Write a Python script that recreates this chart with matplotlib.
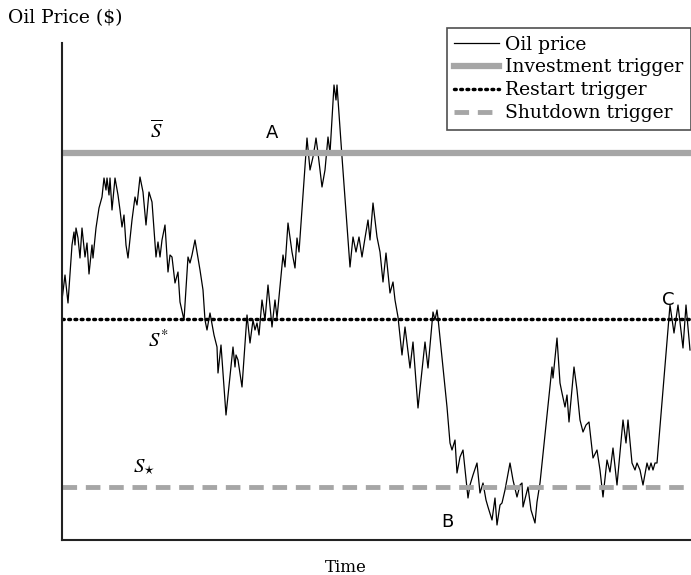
import matplotlib.pyplot as plt
from matplotlib.lines import Line2D

# time steps and oil price (arbitrary units)
time = [0, 3, 6, 10, 12, 13, 14, 16, 18, 20, 23, 25, 27, 30, 31, 34, 37, 40, 42, 44,
        45, 47, 48, 50, 53, 56, 58, 60, 62, 64, 66, 70, 73, 75, 78, 81, 84, 87, 90, 92,
        94, 96, 98, 100, 103, 106, 108, 110, 113, 116, 118, 122, 126, 128, 130, 133, 138, 141, 143, 145,
        148, 152, 155, 156, 159, 164, 171, 173, 174, 176, 180, 185, 188, 191, 193, 195, 197, 200, 203, 206,
        210, 213, 215, 221, 223, 226, 230, 233, 235, 237, 245, 248, 251, 253, 254, 256, 260, 263, 266, 268,
        272, 274, 275, 280, 288, 291, 294, 297, 300, 303, 306, 308, 311, 315, 318, 321, 324, 328, 331, 333,
        336, 340, 343, 348, 351, 356, 363, 366, 371, 373, 375, 376, 385, 388, 390, 393, 395, 398, 401, 406,
        408, 411, 415, 418, 421, 424, 426, 430, 433, 435, 438, 440, 443, 448, 451, 455, 458, 460, 461, 464,
        466, 469, 473, 475, 478, 490, 491, 495, 498, 500, 503, 505, 507, 512, 515, 518, 521, 524, 527, 529,
        531, 535, 538, 541, 545, 548, 551, 555, 561, 564, 566, 570, 573, 575, 578, 581, 585, 587, 589, 591,
        593, 595, 608, 612, 616, 621, 624, 628]
price = [240, 265, 237, 295, 308, 295, 312, 302, 282, 312, 283, 297, 266, 295, 282, 312, 332, 343, 362, 350,
         362, 345, 362, 330, 362, 345, 330, 313, 325, 295, 282, 320, 343, 335, 363, 348, 315, 348, 338, 310,
         283, 298, 283, 300, 315, 268, 285, 283, 257, 268, 238, 220, 283, 277, 285, 300, 270, 250, 220, 210,
         227, 205, 193, 167, 195, 125, 193, 173, 185, 180, 153, 225, 197, 220, 210, 217, 205, 240, 220, 255,
         213, 240, 222, 285, 273, 317, 288, 272, 302, 288, 402, 370, 383, 395, 402, 387, 353, 370, 403, 387,
         455, 440, 455, 383, 273, 303, 288, 303, 283, 302, 320, 300, 337, 303, 288, 258, 287, 247, 258, 240,
         223, 185, 213, 172, 198, 132, 198, 172, 228, 220, 230, 222, 133, 97, 90, 100, 67, 83, 90, 42,
         55, 65, 77, 47, 57, 40, 33, 20, 42, 15, 35, 37, 50, 77, 60, 43, 55, 57, 33, 45,
         53, 30, 17, 38, 57, 173, 162, 202, 157, 147, 133, 145, 118, 173, 150, 120, 108, 115, 118, 100,
         82, 90, 70, 43, 80, 68, 92, 55, 120, 97, 120, 77, 70, 77, 70, 55, 77, 70, 77, 70,
         77, 77, 235, 207, 235, 192, 235, 190]

s_bar = 387    # investment trigger
s_star = 221   # restart trigger
s_low = 53     # shutdown trigger

gray = '#a6a6a6'
serif = 'DejaVu Serif'

fig = plt.figure(figsize=(6.91, 5.75), dpi=100)
ax = fig.add_axes([62/691, 35/575, 1 - 62/691, 497/575])

ax.plot(time, price, color='k', lw=0.9)
ax.axhline(s_bar, color=gray, lw=4.5)
ax.axhline(s_star, color='k', lw=2.5, ls=(0, (0.5, 1.3)), dash_capstyle='round')
ax.axhline(s_low, color=gray, lw=3.5, ls=(0, (3, 1.8)))

ax.set_xlim(0, 629)
ax.set_ylim(0, 497)
ax.set_xticks([])
ax.set_yticks([])
for side in ['top', 'right']:
    ax.spines[side].set_visible(False)
for side in ['left', 'bottom']:
    ax.spines[side].set_linewidth(1.5)
    ax.spines[side].set_color('#222222')

ax.text(88, 402, r'$\overline{S}$', fontsize=15, math_fontfamily='stix')
ax.text(86, 200, r'$S^{*}$', fontsize=15, math_fontfamily='stix', va='center')
ax.text(71, 68, r'$S_{\star}$', fontsize=15, math_fontfamily='stix')
ax.text(210, 407, 'A', fontsize=13, family='DejaVu Sans', ha='center', va='center')
ax.text(385, 18, 'B', fontsize=13, family='DejaVu Sans', ha='center', va='center')
ax.text(606, 240, 'C', fontsize=13, family='DejaVu Sans', ha='center', va='center')

fig.text(8/691, 1 - 18/575, 'Oil Price ($)', fontsize=13.5, family=serif, va='center')
fig.text(346/691, 1 - 567/575, 'Time', fontsize=12, family=serif, ha='center', va='center')

handles = [
    Line2D([], [], color='k', lw=0.9),
    Line2D([], [], color=gray, lw=4.5),
    Line2D([], [], color='k', lw=2.5, ls=(0, (0.5, 1.3)), dash_capstyle='round'),
    Line2D([], [], color=gray, lw=3.5, ls=(0, (3, 1.8))),
]
labels = ['Oil price', 'Investment trigger', 'Restart trigger', 'Shutdown trigger']
leg = fig.legend(handles, labels, loc='upper left', bbox_to_anchor=(447/691, 1 - 28/575),
                 prop={'family': serif, 'size': 13.5}, frameon=True, fancybox=False,
                 edgecolor='#222222', handlelength=2.35, handletextpad=0.37,
                 labelspacing=0.26, borderpad=0.4, borderaxespad=0)
leg.get_frame().set_linewidth(1.2)

fig.savefig('out.png', dpi=100)
